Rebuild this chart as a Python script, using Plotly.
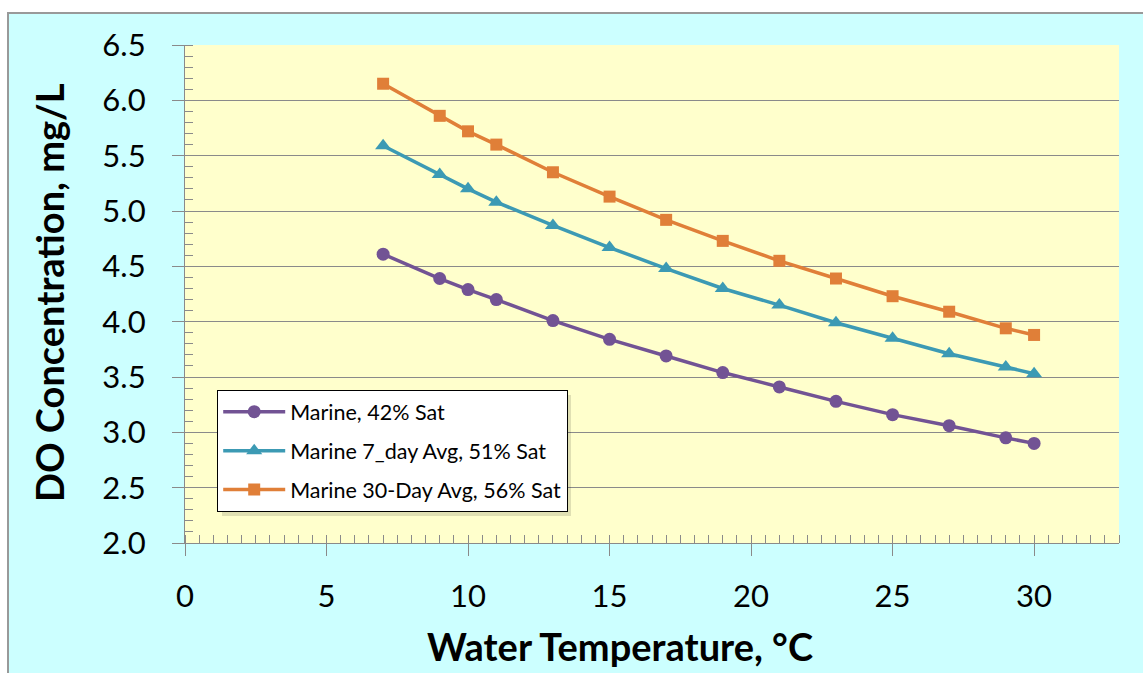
import plotly.graph_objects as go

temps = [7, 9, 10, 11, 13, 15, 17, 19, 21, 23, 25, 27, 29, 30]
marine_42 = [4.61, 4.39, 4.29, 4.20, 4.01, 3.84, 3.69, 3.54, 3.41, 3.28, 3.16, 3.06, 2.95, 2.90]
marine_7day = [5.59, 5.33, 5.20, 5.08, 4.87, 4.67, 4.48, 4.30, 4.15, 3.99, 3.85, 3.71, 3.59, 3.53]
marine_30day = [6.15, 5.86, 5.72, 5.60, 5.35, 5.13, 4.92, 4.73, 4.55, 4.39, 4.23, 4.09, 3.94, 3.88]

names = ["Marine, 42% Sat", "Marine 7_day Avg, 51% Sat", "Marine 30-Day Avg, 56% Sat"]
colors = ["#725394", "#3C9AB4", "#E07F38"]
symbols = ["circle", "triangle-up", "square"]
sizes = [13, 14, 12]
series = [marine_42, marine_7day, marine_30day]

FONT = "Lato"
fig = go.Figure()
for i, (nm, ys) in enumerate(zip(names, series)):
    fig.add_trace(go.Scatter(
        x=temps, y=ys, name=nm, mode="lines+markers",
        legendgroup=f"g{i}",
        line=dict(color=colors[i], width=3.5),
        marker=dict(symbol=symbols[i], size=sizes[i], color=colors[i]),
    ))

W, H = 1143, 673
L, R, T, B = 185, 24, 45, 130
pw, ph = W - L - R, H - T - B

def px(x):
    return (x - L) / pw

def py(y):
    return (H - B - y) / ph

grey = "#8A8A8A"
axis_common = dict(
    showline=True, linecolor=grey, linewidth=1.3,
    ticks="outside", ticklen=12, tickcolor=grey, tickwidth=1.3,
    tickfont=dict(family=FONT, size=31, color="black"),
    zeroline=False,
)

fig.update_layout(
    width=W, height=H,
    margin=dict(l=L, r=R, t=T, b=B),
    paper_bgcolor="white",
    plot_bgcolor="rgba(0,0,0,0)",
    font=dict(family=FONT),
    xaxis=dict(range=[0, 33], dtick=5, tick0=0, showgrid=False,
               minor=dict(dtick=0.5, ticks="inside", ticklen=8, tickcolor=grey, tickwidth=1, showgrid=False),
               ticklabelstandoff=14, **axis_common),
    yaxis=dict(range=[2.0, 6.5], dtick=0.5, tick0=2.0, tickformat=".1f",
               showgrid=True, gridcolor=grey, gridwidth=1.3,
               minor=dict(dtick=0.1, ticks="inside", ticklen=8, tickcolor=grey, tickwidth=1, showgrid=False),
               ticklabelstandoff=20, **axis_common),
    xaxis2=dict(range=[0, 33], dtick=5, tick0=0, overlaying="x", anchor="y", side="bottom",
                showticklabels=False, ticks="inside", ticklen=10, tickcolor=grey, tickwidth=1.3,
                showgrid=False, showline=False, zeroline=False),
    yaxis2=dict(range=[2.0, 6.5], dtick=0.5, tick0=2.0, overlaying="y", anchor="x", side="left",
                showticklabels=False, ticks="inside", ticklen=10, tickcolor=grey, tickwidth=1.3,
                showgrid=False, showline=False, zeroline=False),
    showlegend=True,
    legend=dict(
        x=px(217), y=py(390), xanchor="left", yanchor="top",
        bgcolor="white", bordercolor="black", borderwidth=1.2,
        font=dict(family=FONT, size=21.5, color="black"),
        tracegroupgap=8, itemwidth=62,
    ),
    shapes=[
        dict(type="rect", xref="paper", yref="paper", layer="below",
             x0=px(8), x1=px(W + 5), y0=py(H + 5), y1=py(13),
             fillcolor="#CCFFFF", line=dict(color="#999999", width=2)),
        dict(type="rect", xref="x domain", yref="y domain", layer="below",
             x0=0, x1=1, y0=0, y1=1, fillcolor="#FFFFCC", line=dict(width=0)),
        dict(type="rect", xref="paper", yref="paper", layer="above",
             x0=px(222), x1=px(571), y0=py(516), y1=py(395),
             fillcolor="rgba(0,0,0,0.12)", line=dict(width=0)),
    ],
    annotations=[
        dict(text="<b>Water Temperature, °C</b>", xref="paper", yref="paper",
             x=px(620), y=py(646), xanchor="center", yanchor="middle", showarrow=False,
             font=dict(family=FONT, size=38, color="black")),
        dict(text="<b>DO Concentration, mg/L</b>", xref="paper", yref="paper",
             x=px(49), y=py(293), xanchor="center", yanchor="middle", showarrow=False,
             textangle=-90, font=dict(family=FONT, size=38, color="black")),
    ],
)

fig.write_html("out.html")
